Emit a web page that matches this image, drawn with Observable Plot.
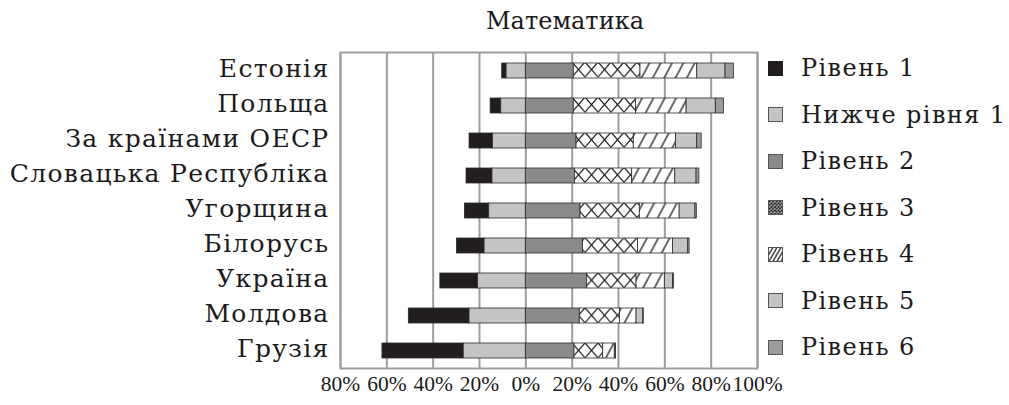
<!DOCTYPE html>
<html><head><meta charset="utf-8">
<script src="https://cdn.jsdelivr.net/npm/d3@7"></script>
<script src="https://cdn.jsdelivr.net/npm/@observablehq/plot@0.6"></script>
<style>
body{margin:0;background:#fff;}
#wrap{position:relative;width:1009px;height:405px;overflow:hidden;font-family:"DejaVu Serif",serif;color:#1c1a1a;}
#title{position:absolute;top:7px;left:415px;width:300px;text-align:center;font-size:24px;}
#chart{position:absolute;left:0;top:0;}
#legend{position:absolute;left:768px;top:45px;}
.item{height:46.5px;display:flex;align-items:center;font-size:24px;letter-spacing:1.4px;white-space:nowrap;}
.item svg{margin-right:18px;flex:none;}
#chart g[aria-label="y-axis tick label"] text{letter-spacing:1.3px;}
</style></head><body>
<svg width="0" height="0" style="position:absolute"><defs>
<pattern id="xhatch" x="0" y="62" width="13" height="17.5556" patternUnits="userSpaceOnUse"><rect width="13" height="17.5556" fill="#fff"/><path d="M0,0L13,15M13,0L0,15" stroke="#1a1a1a" stroke-width="1.2" fill="none"/></pattern>
<pattern id="dhatch" width="10" height="10" patternUnits="userSpaceOnUse" patternTransform="rotate(28)"><rect width="10" height="10" fill="#fff"/><line x1="3" y1="0" x2="3" y2="10" stroke="#1a1a1a" stroke-width="1.3"/></pattern>
<pattern id="xhatchS" width="3.5" height="3.5" patternUnits="userSpaceOnUse"><rect width="3.5" height="3.5" fill="#bbb"/><path d="M0,0L3.5,3.5M3.5,0L0,3.5" stroke="#222" stroke-width="1"/></pattern>
<pattern id="dhatchS" width="3.5" height="3.5" patternUnits="userSpaceOnUse" patternTransform="rotate(30)"><rect width="3.5" height="3.5" fill="#fff"/><line x1="1" y1="0" x2="1" y2="3.5" stroke="#222" stroke-width="1.3"/></pattern>
</defs></svg>
<div id="wrap">
  <div id="title">Математика</div>
  <div id="chart"></div>
  <div id="legend"></div>
</div>
<script>
const countries = ["Естонія","Польща","За країнами ОЕСР","Словацька Республіка","Угорщина","Білорусь","Україна","Молдова","Грузія"];
const levels = ["Рівень 1","Нижче рівня 1","Рівень 2","Рівень 3","Рівень 4","Рівень 5","Рівень 6"];
// left side (shown to the left of 0%)
const level1  = [1.9, 4.6, 10.1, 11.2, 10.5, 11.9, 16.3, 26.2, 35.1];
const below1  = [8.3, 10.6, 14.2, 14.4, 15.8, 17.8, 20.6, 24.3, 26.8];
// right side
const level2  = [20.7, 20.7, 21.9, 21.2, 23.6, 24.7, 26.5, 23.3, 21.0];
const level3  = [28.8, 26.9, 24.7, 24.7, 25.6, 23.7, 21.3, 17.3, 12.4];
const level4  = [24.5, 21.8, 18.2, 18.6, 17.2, 15.1, 12.2, 7.2, 5.0];
const level5  = [12.2, 12.6, 9.2, 9.2, 6.8, 6.6, 3.6, 2.9, 0.4];
const level6  = [3.6, 3.5, 1.9, 1.2, 0.6, 0.6, 0.4, 0.2, 0.1];
const xTicks  = [-80, -60, -40, -20, 0, 20, 40, 60, 80, 100];

const fills = ["#221e1f", "#c4c4c4", "#8a8a8a", "url(#xhatch)", "url(#dhatch)", "#c4c4c4", "#9c9c9c"];
const legendFills = ["#221e1f", "#c4c4c4", "#8a8a8a", "url(#xhatchS)", "url(#dhatchS)", "#c4c4c4", "#9c9c9c"];
const series = [level1, below1, level2, level3, level4, level5, level6];
const negative = [true, true, false, false, false, false, false];
const stackOrder = ["Нижче рівня 1","Рівень 1","Рівень 2","Рівень 3","Рівень 4","Рівень 5","Рівень 6"];

const rows = countries.flatMap((c, i) => levels.map((l, j) => ({
  country: c, level: l, value: negative[j] ? -series[j][i] : series[j][i]
})));

const plot = Plot.plot({
  width: 770, height: 405,
  marginTop: 52, marginBottom: 37, marginLeft: 340, marginRight: 13,
  style: {fontFamily: "DejaVu Serif", color: "#1c1a1a", background: "transparent", overflow: "visible"},
  x: {domain: [-80, 100], label: null},
  y: {domain: countries, padding: 0, label: null},
  color: {domain: levels, range: fills},
  marks: [
    Plot.gridX(xTicks, {stroke: "#9e9e9e", strokeOpacity: 1, strokeWidth: 2}),
    Plot.barX(rows, {x: "value", y: "country", fill: "level", order: stackOrder,
      insetTop: 10, insetBottom: 10, stroke: "#2b2b2b", strokeWidth: 0.8}),
    Plot.frame({stroke: "#9e9e9e", strokeWidth: 2}),
    Plot.axisX(xTicks, {tickSize: 0, tickPadding: 7, tickFormat: d => Math.abs(d) + "%",
      fontSize: 21.5, fontFamily: "Liberation Serif", label: null}),
    Plot.axisY({tickSize: 0, tickPadding: 11, dy: -2, fontSize: 25, fontFamily: "DejaVu Serif", label: null})
  ]
});
document.getElementById("chart").appendChild(plot);

const legend = d3.select("#legend");
levels.forEach((l, j) => {
  const item = legend.append("div").attr("class", "item");
  const s = item.append("svg").attr("width", 15).attr("height", 15);
  s.append("rect").attr("x", 0.5).attr("y", 0.5).attr("width", 14).attr("height", 14)
    .attr("fill", legendFills[j]).attr("stroke", j === 0 ? "#221e1f" : "#555").attr("stroke-width", 1);
  item.append("span").text(l);
});
</script>
</body></html>
